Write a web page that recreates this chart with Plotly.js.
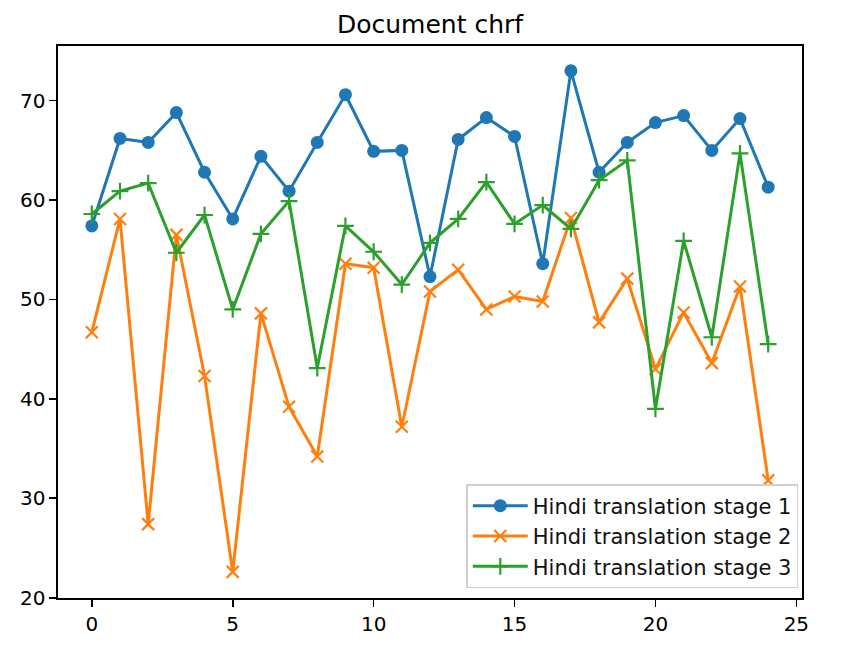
<!DOCTYPE html>
<html>
<head>
<meta charset="utf-8">
<script src="https://cdn.plot.ly/plotly-3.0.1.min.js"></script>
<style>html,body{margin:0;padding:0;background:#fff;}#chart{width:859px;height:659px;}</style>
</head>
<body>
<div id="chart"></div>
<script>
const xIndex = Array.from({length: 25}, (_, i) => i);
const stage1 = [57.4, 66.2, 65.8, 68.8, 62.8, 58.1, 64.4, 60.9, 65.8, 70.6, 64.9, 65.0, 52.3, 66.1, 68.3, 66.4, 53.6, 73.0, 62.8, 65.8, 67.8, 68.5, 65.0, 68.2, 61.3];
const stage2 = [46.7, 58.1, 27.4, 56.5, 42.3, 22.6, 48.6, 39.2, 34.2, 53.6, 53.2, 37.2, 50.8, 53.0, 49.0, 50.3, 49.8, 58.2, 47.7, 52.1, 43.0, 48.7, 43.6, 51.3, 31.8];
const stage3 = [58.6, 60.9, 61.7, 54.7, 58.5, 49.0, 56.6, 59.9, 43.1, 57.4, 54.8, 51.5, 55.7, 58.1, 61.8, 57.6, 59.5, 57.1, 62.0, 64.0, 39.0, 55.9, 46.2, 64.7, 45.5];
const seriesNames = ["Hindi translation stage 1", "Hindi translation stage 2", "Hindi translation stage 3"];
const titleText = "Document chrf";

const font = "DejaVu Sans, sans-serif";
const traces = [
  {x: xIndex, y: stage1, name: seriesNames[0], type: "scatter", mode: "lines+markers",
   line: {color: "#1f77b4", width: 3},
   marker: {symbol: "circle", size: 13, color: "#1f77b4"}},
  {x: xIndex, y: stage2, name: seriesNames[1], type: "scatter", mode: "lines+markers",
   line: {color: "#ff7f0e", width: 3},
   marker: {symbol: "x-thin", size: 12, color: "#ff7f0e", line: {color: "#ff7f0e", width: 2.2}}},
  {x: xIndex, y: stage3, name: seriesNames[2], type: "scatter", mode: "lines+markers",
   line: {color: "#2ca02c", width: 3},
   marker: {symbol: "cross-thin", size: 12, color: "#2ca02c", line: {color: "#2ca02c", width: 2.2}}}
];

const axisCommon = {
  showgrid: false, zeroline: false, showline: true, mirror: true,
  linecolor: "#000", linewidth: 1.6,
  ticks: "outside", ticklen: 7, tickwidth: 1.6, tickcolor: "#000",
  tickfont: {family: font, size: 20, color: "#000"}
};

const layout = {
  width: 859, height: 659,
  margin: {l: 58, r: 57, t: 46, b: 61},
  paper_bgcolor: "#fff", plot_bgcolor: "#fff",
  font: {family: font, color: "#000"},
  title: {text: titleText, font: {family: font, size: 25, color: "#000"},
          x: 0.5, xref: "paper", xanchor: "center", y: 1 - 24/659, yref: "container", yanchor: "middle"},
  xaxis: Object.assign({}, axisCommon, {range: [-1.2, 25.2], tickmode: "array", tickvals: [0, 5, 10, 15, 20, 25]}),
  yaxis: Object.assign({}, axisCommon, {range: [19.97, 75.5], tickmode: "array", tickvals: [20, 30, 40, 50, 60, 70]}),
  showlegend: true,
  legend: {x: 0.995, xanchor: "right", y: 0.018, yanchor: "bottom",
           bgcolor: "rgba(255,255,255,0.8)", bordercolor: "#d0d0d0", borderwidth: 1.5,
           itemwidth: 55,
           font: {family: font, size: 21, color: "#111"}},
  hovermode: false
};

Plotly.newPlot("chart", traces, layout, {staticPlot: true, displayModeBar: false});
</script>
</body>
</html>
